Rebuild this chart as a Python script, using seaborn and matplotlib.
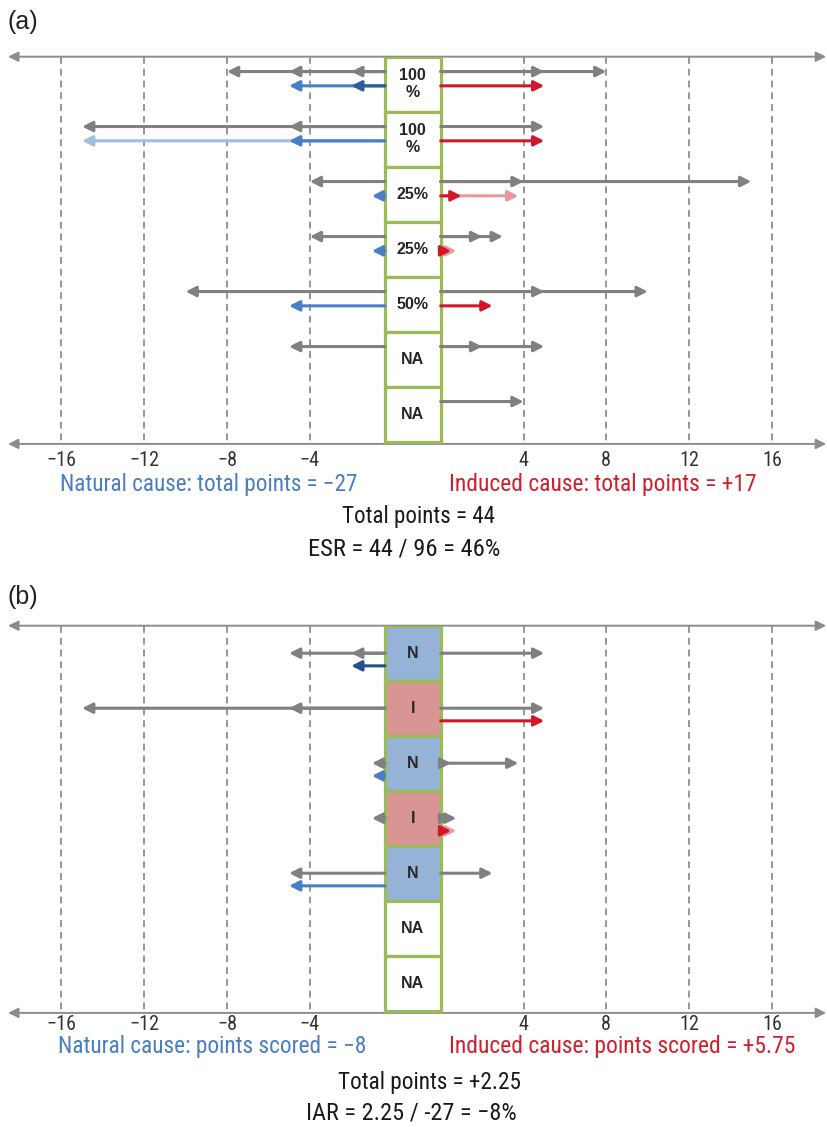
import matplotlib
matplotlib.use("Agg")
import matplotlib.pyplot as plt
from matplotlib.patches import Rectangle, FancyArrowPatch
from matplotlib import font_manager as fm
import seaborn as sns

# ---------------- data ----------------
ticks = [-16, -12, -8, -4, 4, 8, 12, 16]

# panel (a): effect strength per study
labels_a = ["100\n%", "100\n%", "25%", "25%", "50%", "NA", "NA"]
gray_left_a = [[-2, -5, -8], [-5, -15], [-4], [-4], [-10], [-5], []]
gray_right_a = [[5, 8], [5], [4, 15], [2, 3], [5, 10], [2, 5], [4]]
natural_a = [[-2, -5], [-5, -15], [-1], [-1], [-5], [], []]
natural_a_shade = [["dark", "mid"], ["mid", "light"], ["mid"], ["mid"], ["mid"], [], []]
induced_a = [[5], [5], [1, 3.75], [0.5, 0.75], [2.5], [], []]
induced_a_shade = [["dark"], ["dark"], ["dark", "light"], ["dark", "light"], ["dark"], [], []]

# panel (b): attribution per study
labels_b = ["N", "I", "N", "I", "N", "NA", "NA"]
gray_left_b = [[-2, -5], [-5, -15], [-1], [-1], [-5], [], []]
gray_right_b = [[5], [5], [0.5, 3.75], [0.5, 0.75], [2.5], [], []]
natural_b = [[-2], [], [-1], [], [-5], [], []]
natural_b_shade = [["navy"], [], ["mid"], [], ["mid"], [], []]
induced_b = [[], [5], [], [0.5, 0.75], [], [], []]
induced_b_shade = [[], ["dark"], [], ["dark", "light"], [], [], []]

text_a = ["Natural cause: total points = \u221227",
          "Induced cause: total points = +17",
          "Total points = 44",
          "ESR = 44 / 96 = 46%"]
text_b = ["Natural cause: points scored = \u22128",
          "Induced cause: points scored = +5.75",
          "Total points = +2.25",
          "IAR = 2.25 / -27 = \u22128%"]

# ---------------- style ----------------
sns.set_theme(style="white")
plt.rcParams["font.family"] = ["Liberation Sans", "DejaVu Sans"]

GRAY = "#808080"
AXIS_GRAY = "#8c8c8c"
GREEN = "#9bbb59"
BLUE_TXT = "#4a7ec2"
RED_TXT = "#d0202e"
BLUES = {"navy": "#23508f", "dark": "#2e5c9c", "mid": "#4a7ec6", "light": "#9dbde3"}
REDS = {"dark": "#d0182a", "light": "#e8999a"}
FILLS = {"N": "#95b3d7", "I": "#d99594", "NA": "white"}

W, H = 828, 1127
HALF_GAP = 1.16          # half the spacing between the two zero points
BOX_L, BOX_R = -1.53, 1.16
XMIN, XMAX = -20.13, 19.87
ROW_PX = 55.0
NROW_SPAN = 7.04


def narrow_font():
    """Return a regular-weight condensed sans font file if one is installed."""
    entries = fm.fontManager.ttflist
    preferred = ["Liberation Sans Narrow", "Roboto Condensed", "Open Sans Condensed",
                 "Arial Narrow"]
    for name in preferred:
        for f in entries:
            if f.name == name and f.style == "normal" and str(f.weight) in ("400", "normal", "regular", "book"):
                return f.fname
    for f in entries:
        if (f.name in ("Noto Sans", "DejaVu Sans", "Open Sans", "Roboto", "Inter", "Lato")
                and str(f.stretch) in ("condensed", "semi-condensed", "extra-condensed")
                and f.style == "normal"
                and str(f.weight) in ("400", "normal", "regular", "book")):
            return f.fname
    return None


NARROW = narrow_font()


def fprops(size):
    if NARROW:
        return fm.FontProperties(fname=NARROW, size=size)
    return fm.FontProperties(family=["Liberation Sans", "DejaVu Sans"], size=size)


def pos(v):
    return v + HALF_GAP if v > 0 else v - HALF_GAP


def arrow(ax, x0, x1, y, color, lw=2.2, ms=8):
    ax.add_patch(FancyArrowPatch((x0, y), (x1, y),
                                 arrowstyle="-|>,head_length=0.75,head_width=0.38",
                                 mutation_scale=ms, color=color, lw=lw,
                                 shrinkA=0, shrinkB=0, zorder=4, clip_on=False))


def draw_set(ax, values, y, colors):
    # longest first so the shorter heads sit on top
    items = sorted(zip(values, colors), key=lambda t: -abs(t[0]))
    for v, c in items:
        start = BOX_R if v > 0 else BOX_L
        arrow(ax, start, pos(v), y, c)


def panel(top_px, labels, gl, gr, nat, nat_sh, ind, ind_sh, gray_dy, col_dy, filled):
    bottom_px = top_px + NROW_SPAN * ROW_PX
    ax = fig.add_axes([0, 1 - bottom_px / H, 1, (bottom_px - top_px) / H])
    ax.set_xlim(XMIN, XMAX)
    ax.set_ylim(NROW_SPAN, 0)
    ax.axis("off")

    # dashed reference lines
    ax.vlines([pos(t) for t in ticks], 0, NROW_SPAN, colors="#7a7a7a",
              linestyles=(0, (4.5, 3.2)), lw=1.1, zorder=1)
    # number lines at top and bottom
    for yl in (0, NROW_SPAN):
        ax.add_patch(FancyArrowPatch((-19.74, yl), (19.78, yl),
                                     arrowstyle="<|-|>,head_length=0.6,head_width=0.3",
                                     mutation_scale=10, color=AXIS_GRAY, lw=1.4,
                                     shrinkA=0, shrinkB=0, zorder=2, clip_on=False))

    for i, lab in enumerate(labels):
        fc = FILLS.get(lab, "white") if filled else "white"
        ax.add_patch(Rectangle((BOX_L, i), BOX_R - BOX_L, 1, facecolor=fc,
                               edgecolor=GREEN, lw=2.3, zorder=3))
        ax.text((BOX_L + BOX_R) / 2, i + 0.5, lab, ha="center", va="center",
                fontsize=11.5, fontweight="bold", color="#262626",
                linespacing=1.2, zorder=5)
        draw_set(ax, gl[i], i + gray_dy, [GRAY] * len(gl[i]))
        draw_set(ax, gr[i], i + gray_dy, [GRAY] * len(gr[i]))
        draw_set(ax, nat[i], i + col_dy, [BLUES[s] for s in nat_sh[i]])
        draw_set(ax, ind[i], i + col_dy, [REDS[s] for s in ind_sh[i]])
    return ax, bottom_px


fig = plt.figure(figsize=(W / 100, H / 100), dpi=100)
fig.patch.set_facecolor("white")
renderer = fig.canvas.get_renderer()


def fitted_text(x, y, s, width_px, color, ha="center"):
    """Place a text centred at pixel (x, y), sized to span width_px."""
    t = fig.text(x / W, 1 - y / H, s, ha=ha, va="center", color=color,
                 fontproperties=fprops(15))
    w = t.get_window_extent(renderer).width
    t.set_fontproperties(fprops(15 * width_px / w))
    return t


ax_a, bot_a = panel(56.7, labels_a, gray_left_a, gray_right_a, natural_a,
                    natural_a_shade, induced_a, induced_a_shade, 0.27, 0.53, False)
ax_b, bot_b = panel(625.7, labels_b, gray_left_b, gray_right_b, natural_b,
                    natural_b_shade, induced_b, induced_b_shade, 0.5, 0.73, True)

# tick labels under each number line
probe = fig.text(0, 0, "\u221216", fontproperties=fprops(15))
tick_size = 15 * 30 / probe.get_window_extent(renderer).width
probe.remove()
for ax, ypix in ((ax_a, bot_a + 17), (ax_b, bot_b + 12)):
    for t in ticks:
        xpix = (pos(t) - XMIN) / (XMAX - XMIN) * W
        fig.text(xpix / W, 1 - ypix / H, f"{t}".replace("-", "\u2212"),
                 ha="center", va="center", color="#333333",
                 fontproperties=fprops(tick_size))

fig.text(8 / W, 1 - 22 / H, "(a)", ha="left", va="center", fontsize=18,
         color="#222222")
fig.text(8 / W, 1 - 597 / H, "(b)", ha="left", va="center", fontsize=18,
         color="#222222")

fitted_text(208.5, 484, text_a[0], 297, BLUE_TXT)
fitted_text(603, 484, text_a[1], 308, RED_TXT)
fitted_text(418.5, 517, text_a[2], 153, "#1a1a1a")
fitted_text(404, 549, text_a[3], 192, "#1a1a1a")

fitted_text(212, 1047, text_b[0], 308, BLUE_TXT)
fitted_text(622, 1047, text_b[1], 346, RED_TXT)
fitted_text(430, 1082, text_b[2], 183, "#1a1a1a")
fitted_text(411.5, 1113, text_b[3], 211, "#1a1a1a")

fig.savefig("out.png", dpi=100, facecolor="white")
